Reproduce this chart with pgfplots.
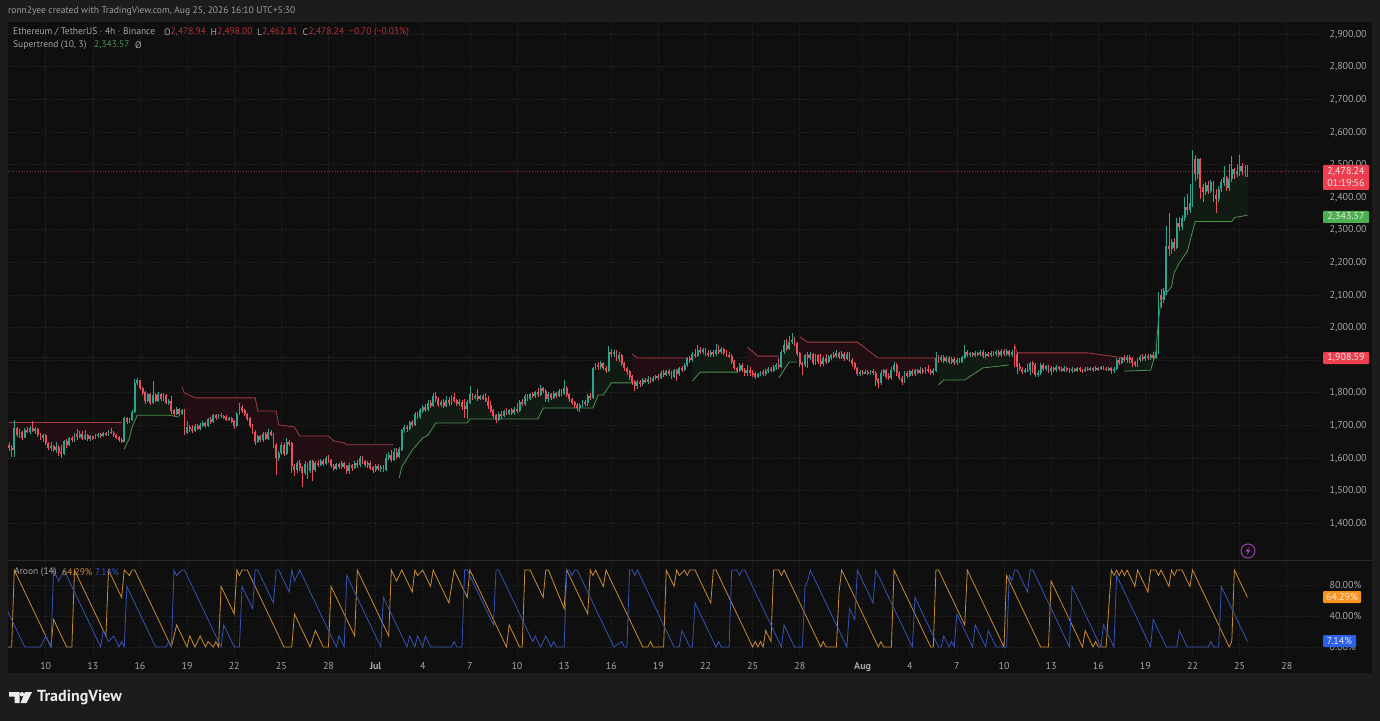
\documentclass[border=0pt]{standalone}
\usepackage{pgfplots}
\usepackage{pgfplotstable}
\usepackage{fontspec}
\pgfplotsset{compat=1.18}
\setmainfont{PT Sans}
\definecolor{outer}{HTML}{1C1C1C}
\definecolor{panel}{HTML}{0F0F0F}
\definecolor{gridc}{HTML}{272727}
\definecolor{txt}{HTML}{A6A6A6}
\definecolor{upc}{HTML}{2BA58F}
\definecolor{dnc}{HTML}{E8515D}
\definecolor{stred}{HTML}{A33B44}
\definecolor{stgreen}{HTML}{4F9150}
\definecolor{bandr}{HTML}{210F13}
\definecolor{bandg}{HTML}{111B14}
\definecolor{aorange}{HTML}{C98A35}
\definecolor{ablue}{HTML}{3553B5}
\definecolor{legred}{HTML}{B5323C}
\definecolor{leggreen}{HTML}{3F9A50}
\definecolor{boxred}{HTML}{EE3F50}
\definecolor{boxgreen}{HTML}{4CAF50}
\definecolor{boxorange}{HTML}{F7931E}
\definecolor{boxblue}{HTML}{2962E8}
\definecolor{purp}{HTML}{9A3FB0}
\pgfplotstableread{
n o c l h
-14 1640 1630 1622 1650
-13 1630 1625 1603 1640
-12 1625 1690 1603 1716
-11 1690 1672 1665 1695
-10 1672 1678 1660 1690
-9 1678 1662 1655 1682
-8 1662 1685 1660 1692
-7 1685 1680 1675 1695
-6 1680 1690 1672 1698
-5 1690 1682 1678 1712
-4 1682 1688 1672 1695
-3 1688 1670 1665 1692
-2 1670 1662 1655 1675
-1 1662 1668 1650 1672
0 1668 1645 1640 1672
1 1645 1630 1625 1650
2 1630 1635 1622 1650
3 1635 1625 1618 1640
4 1625 1632 1615 1650
5 1632 1618 1605 1640
6 1618 1612 1600 1640
7 1612 1650 1610 1655
8 1650 1640 1630 1658
9 1640 1660 1635 1665
10 1660 1655 1648 1668
11 1655 1672 1650 1675
12 1672 1665 1655 1688
13 1665 1672 1660 1682
14 1672 1660 1655 1682
15 1660 1668 1655 1685
16 1668 1658 1652 1672
17 1658 1665 1652 1670
18 1665 1660 1655 1668
19 1660 1668 1658 1672
20 1668 1672 1662 1676
21 1672 1668 1662 1676
22 1668 1676 1665 1680
23 1676 1672 1668 1680
24 1672 1680 1668 1686
25 1680 1676 1672 1692
26 1676 1670 1665 1682
27 1670 1662 1658 1674
28 1662 1655 1650 1666
29 1655 1650 1645 1660
30 1650 1720 1648 1726
31 1720 1712 1705 1725
32 1712 1718 1706 1722
33 1718 1740 1712 1746
34 1740 1830 1738 1842
35 1830 1838 1822 1846
36 1838 1815 1808 1840
37 1815 1800 1792 1818
38 1800 1775 1765 1805
39 1775 1795 1770 1800
40 1795 1770 1762 1800
41 1770 1792 1765 1835
42 1792 1775 1770 1800
43 1775 1795 1770 1802
44 1795 1780 1775 1800
45 1780 1792 1775 1798
46 1792 1770 1765 1796
47 1770 1775 1762 1782
48 1775 1745 1735 1790
49 1745 1735 1728 1750
50 1735 1750 1730 1755
51 1750 1735 1728 1754
52 1735 1745 1730 1750
53 1745 1678 1670 1750
54 1678 1695 1672 1712
55 1695 1688 1680 1702
56 1688 1682 1676 1700
57 1682 1698 1678 1704
58 1698 1690 1685 1704
59 1690 1700 1686 1706
60 1700 1705 1695 1712
61 1705 1698 1692 1710
62 1698 1718 1695 1722
63 1718 1710 1704 1724
64 1710 1730 1706 1735
65 1730 1722 1716 1736
66 1722 1732 1718 1736
67 1732 1728 1722 1738
68 1728 1725 1718 1732
69 1725 1718 1712 1730
70 1718 1722 1712 1726
71 1722 1712 1706 1726
72 1712 1700 1690 1716
73 1700 1735 1696 1740
74 1735 1755 1730 1768
75 1755 1745 1738 1762
76 1745 1735 1728 1750
77 1735 1720 1712 1738
78 1720 1700 1692 1724
79 1700 1680 1672 1704
80 1680 1650 1640 1684
81 1650 1665 1645 1670
82 1665 1655 1648 1670
83 1655 1672 1650 1678
84 1672 1660 1654 1678
85 1660 1680 1656 1688
86 1680 1672 1666 1684
87 1672 1640 1630 1676
88 1640 1600 1548 1645
89 1600 1615 1590 1622
90 1615 1640 1610 1650
91 1640 1612 1606 1646
92 1612 1648 1608 1660
93 1648 1645 1636 1655
94 1645 1575 1555 1650
95 1575 1565 1545 1582
96 1565 1585 1555 1590
97 1585 1570 1560 1592
98 1570 1555 1510 1575
99 1555 1580 1548 1590
100 1580 1560 1535 1585
101 1560 1590 1555 1595
102 1590 1565 1530 1595
103 1565 1585 1558 1590
104 1585 1580 1572 1592
105 1580 1590 1574 1596
106 1590 1582 1576 1598
107 1582 1600 1578 1606
108 1600 1592 1585 1610
109 1592 1575 1568 1596
110 1575 1568 1560 1580
111 1568 1580 1562 1585
112 1580 1572 1565 1585
113 1572 1582 1566 1590
114 1582 1574 1566 1586
115 1574 1560 1550 1578
116 1560 1578 1552 1584
117 1578 1570 1560 1582
118 1570 1585 1565 1590
119 1585 1578 1570 1595
120 1578 1600 1572 1606
121 1600 1590 1582 1606
122 1590 1580 1572 1594
123 1580 1585 1570 1590
124 1585 1570 1562 1590
125 1570 1565 1555 1575
126 1565 1575 1558 1580
127 1575 1568 1560 1580
128 1568 1572 1558 1578
129 1572 1565 1558 1578
130 1565 1600 1560 1612
131 1600 1608 1592 1618
132 1608 1595 1588 1625
133 1595 1618 1590 1630
134 1618 1605 1598 1630
135 1605 1625 1600 1632
136 1625 1685 1620 1690
137 1685 1695 1675 1700
138 1695 1688 1680 1702
139 1688 1710 1685 1714
140 1710 1702 1695 1716
141 1702 1735 1698 1740
142 1735 1725 1720 1742
143 1725 1745 1720 1752
144 1745 1755 1738 1762
145 1755 1748 1742 1764
146 1748 1768 1744 1778
147 1768 1760 1752 1776
148 1760 1790 1755 1800
149 1790 1780 1772 1802
150 1780 1762 1755 1786
151 1762 1772 1756 1778
152 1772 1760 1752 1782
153 1760 1778 1755 1790
154 1778 1768 1760 1786
155 1768 1786 1762 1792
156 1786 1776 1768 1798
157 1776 1765 1758 1782
158 1765 1772 1758 1780
159 1772 1758 1748 1776
160 1758 1750 1722 1780
161 1750 1770 1720 1778
162 1770 1795 1764 1820
163 1795 1785 1778 1800
164 1785 1790 1780 1796
165 1790 1780 1774 1810
166 1780 1790 1776 1794
167 1790 1782 1776 1796
168 1782 1775 1770 1800
169 1775 1760 1750 1790
170 1760 1745 1738 1775
171 1745 1730 1722 1750
172 1730 1718 1708 1735
173 1718 1735 1712 1740
174 1735 1728 1720 1745
175 1728 1742 1724 1748
176 1742 1735 1730 1752
177 1735 1745 1730 1750
178 1745 1738 1732 1752
179 1738 1750 1732 1755
180 1750 1745 1738 1768
181 1745 1770 1740 1776
182 1770 1765 1758 1780
183 1765 1790 1760 1796
184 1790 1780 1774 1796
185 1780 1795 1776 1800
186 1795 1790 1784 1802
187 1790 1800 1784 1806
188 1800 1795 1788 1815
189 1795 1812 1790 1822
190 1812 1805 1798 1818
191 1805 1780 1772 1810
192 1780 1795 1772 1802
193 1795 1785 1778 1800
194 1785 1798 1780 1804
195 1798 1790 1784 1802
196 1790 1805 1786 1810
197 1805 1798 1790 1810
198 1798 1815 1792 1840
199 1815 1795 1788 1820
200 1795 1780 1772 1800
201 1780 1770 1762 1785
202 1770 1762 1754 1775
203 1762 1755 1745 1768
204 1755 1762 1740 1768
205 1762 1770 1756 1776
206 1770 1768 1758 1778
207 1768 1790 1760 1796
208 1790 1785 1778 1800
209 1785 1875 1780 1880
210 1875 1885 1868 1892
211 1885 1878 1870 1895
212 1878 1890 1872 1898
213 1890 1875 1868 1895
214 1875 1868 1860 1882
215 1868 1925 1862 1942
216 1925 1918 1908 1935
217 1918 1925 1910 1932
218 1925 1905 1898 1930
219 1905 1915 1895 1925
220 1915 1890 1882 1920
221 1890 1875 1866 1895
222 1875 1865 1855 1880
223 1865 1850 1840 1870
224 1850 1835 1825 1855
225 1835 1820 1805 1840
226 1820 1832 1812 1838
227 1832 1826 1818 1840
228 1826 1838 1820 1845
229 1838 1835 1830 1845
230 1835 1842 1828 1850
231 1842 1838 1830 1848
232 1838 1845 1832 1852
233 1845 1850 1838 1855
234 1850 1846 1838 1856
235 1846 1860 1842 1866
236 1860 1855 1848 1868
237 1855 1865 1850 1870
238 1865 1858 1850 1872
239 1858 1850 1842 1866
240 1850 1868 1845 1874
241 1868 1858 1835 1872
242 1858 1875 1852 1880
243 1875 1870 1862 1882
244 1870 1885 1865 1890
245 1885 1905 1880 1910
246 1905 1900 1892 1912
247 1900 1918 1895 1924
248 1918 1912 1905 1935
249 1912 1930 1908 1945
250 1930 1925 1918 1940
251 1925 1932 1918 1938
252 1932 1920 1912 1936
253 1920 1915 1908 1930
254 1915 1925 1910 1932
255 1925 1918 1908 1930
256 1918 1930 1912 1950
257 1930 1925 1918 1945
258 1925 1932 1918 1940
259 1932 1922 1915 1936
260 1922 1915 1908 1930
261 1915 1912 1905 1925
262 1912 1895 1888 1918
263 1895 1875 1868 1900
264 1875 1868 1860 1880
265 1868 1885 1862 1890
266 1885 1870 1862 1890
267 1870 1860 1850 1875
268 1860 1868 1852 1885
269 1868 1860 1852 1878
270 1860 1855 1848 1868
271 1855 1850 1842 1862
272 1850 1855 1845 1860
273 1855 1862 1850 1866
274 1862 1858 1852 1868
275 1858 1866 1852 1872
276 1866 1872 1860 1878
277 1872 1868 1862 1880
278 1868 1878 1862 1884
279 1878 1885 1870 1890
280 1885 1880 1872 1905
281 1880 1925 1876 1930
282 1925 1945 1918 1960
283 1945 1935 1928 1965
284 1935 1955 1930 1975
285 1955 1962 1948 1982
286 1962 1950 1942 1970
287 1950 1920 1912 1955
288 1920 1890 1880 1925
289 1890 1885 1855 1895
290 1885 1915 1880 1920
291 1915 1908 1875 1925
292 1908 1918 1900 1925
293 1918 1892 1885 1922
294 1892 1915 1886 1920
295 1915 1895 1888 1920
296 1895 1890 1880 1920
297 1890 1905 1882 1912
298 1905 1895 1888 1920
299 1895 1908 1890 1915
300 1908 1915 1900 1920
301 1915 1912 1905 1925
302 1912 1920 1905 1930
303 1920 1910 1904 1925
304 1910 1918 1902 1928
305 1918 1905 1898 1925
306 1905 1918 1900 1924
307 1918 1900 1893 1925
308 1900 1890 1880 1906
309 1890 1875 1868 1895
310 1875 1858 1850 1880
311 1858 1864 1852 1870
312 1864 1860 1855 1870
313 1860 1863 1856 1868
314 1863 1860 1855 1868
315 1860 1866 1855 1870
316 1866 1860 1855 1872
317 1860 1840 1820 1866
318 1840 1830 1815 1846
319 1830 1860 1825 1868
320 1860 1870 1852 1874
321 1870 1850 1842 1874
322 1850 1845 1838 1860
323 1845 1870 1840 1878
324 1870 1885 1862 1895
325 1885 1860 1850 1892
326 1860 1845 1838 1865
327 1845 1835 1825 1850
328 1835 1860 1830 1866
329 1860 1852 1846 1866
330 1852 1866 1848 1870
331 1866 1858 1852 1872
332 1858 1868 1852 1874
333 1868 1862 1856 1874
334 1862 1870 1856 1878
335 1870 1864 1858 1876
336 1864 1872 1858 1880
337 1872 1866 1860 1884
338 1866 1860 1855 1872
339 1860 1868 1855 1875
340 1868 1905 1862 1925
341 1905 1900 1892 1915
342 1900 1910 1894 1916
343 1910 1898 1892 1916
344 1898 1906 1890 1912
345 1906 1895 1888 1912
346 1895 1902 1888 1908
347 1902 1892 1886 1908
348 1892 1900 1886 1906
349 1900 1895 1890 1906
350 1895 1908 1890 1912
351 1908 1925 1902 1945
352 1925 1915 1908 1930
353 1915 1920 1910 1926
354 1920 1915 1908 1925
355 1915 1922 1910 1928
356 1922 1918 1912 1926
357 1918 1925 1912 1930
358 1925 1912 1906 1930
359 1912 1918 1906 1924
360 1918 1915 1908 1924
361 1915 1922 1910 1928
362 1922 1918 1912 1928
363 1918 1924 1912 1930
364 1924 1915 1908 1930
365 1915 1928 1910 1934
366 1928 1918 1912 1934
367 1918 1928 1912 1934
368 1928 1915 1908 1932
369 1915 1925 1908 1930
370 1925 1918 1880 1942
371 1918 1880 1858 1925
372 1880 1872 1865 1890
373 1872 1865 1858 1880
374 1865 1868 1860 1875
375 1868 1870 1862 1888
376 1870 1890 1855 1895
377 1890 1885 1860 1898
378 1885 1855 1848 1890
379 1855 1860 1848 1870
380 1860 1885 1855 1890
381 1885 1872 1865 1890
382 1872 1880 1866 1885
383 1880 1868 1860 1884
384 1868 1876 1855 1882
385 1876 1870 1864 1880
386 1870 1878 1864 1884
387 1878 1872 1866 1882
388 1872 1868 1862 1880
389 1868 1875 1862 1882
390 1875 1870 1864 1880
391 1870 1866 1860 1876
392 1866 1872 1860 1878
393 1872 1868 1862 1876
394 1868 1874 1864 1880
395 1874 1870 1864 1878
396 1870 1866 1860 1874
397 1866 1873 1862 1878
398 1873 1870 1865 1878
399 1870 1875 1865 1880
400 1875 1870 1864 1880
401 1870 1876 1866 1882
402 1876 1872 1866 1880
403 1872 1877 1868 1882
404 1877 1873 1868 1882
405 1873 1870 1865 1878
406 1870 1875 1865 1880
407 1875 1866 1858 1880
408 1866 1873 1860 1878
409 1873 1900 1868 1905
410 1900 1893 1886 1906
411 1893 1905 1888 1910
412 1905 1900 1894 1914
413 1900 1908 1892 1916
414 1908 1902 1890 1914
415 1902 1892 1880 1908
416 1892 1885 1878 1898
417 1885 1900 1880 1906
418 1900 1910 1894 1916
419 1910 1904 1898 1918
420 1904 1912 1898 1918
421 1912 1906 1900 1920
422 1906 1915 1900 1920
423 1915 1908 1900 1925
424 1908 1925 1902 1932
425 1925 2100 1920 2110
426 2100 2085 2060 2118
427 2085 2110 2075 2120
428 2110 2250 2100 2310
429 2250 2240 2220 2350
430 2240 2260 2225 2270
431 2260 2245 2235 2275
432 2245 2320 2240 2335
433 2320 2310 2295 2340
434 2310 2335 2300 2345
435 2335 2370 2325 2400
436 2370 2360 2345 2410
437 2360 2380 2350 2440
438 2380 2515 2370 2544
439 2515 2470 2450 2530
440 2470 2515 2455 2520
441 2515 2430 2395 2520
442 2430 2415 2385 2440
443 2415 2435 2405 2445
444 2435 2420 2410 2450
445 2420 2445 2412 2452
446 2445 2405 2385 2450
447 2405 2395 2350 2425
448 2395 2425 2385 2435
449 2425 2445 2415 2455
450 2445 2460 2435 2495
451 2460 2430 2420 2465
452 2430 2455 2420 2500
453 2455 2485 2445 2525
454 2485 2470 2455 2490
455 2470 2480 2460 2500
456 2480 2495 2465 2530
457 2495 2478 2468 2505
458 2478 2479 2462 2498
459 2478.94 2478.24 2462.81 2498
}\candles
\pgfplotsset{
  tvaxis/.style={
    scale only axis, width=1312pt, xmin=-14.4, xmax=486.7,
    axis line style={draw=none}, tick style={draw=none},
    xtick={0,18,36,54,72,90,108,126,144,162,180,198,216,234,252,270,288,312,330,348,366,384,402,420,438,456,474},
    xmajorgrids, ymajorgrids,
    grid style={gridc, dotted, line width=0.6pt},
    tick label style={text=txt, font=\fontsize{10}{11}\selectfont},
    clip=true,
  },
  candlewick/.style={only marks, mark size=0pt, mark options={draw=none, fill=none}, forget plot, error bars/.cd, y dir=both, y explicit, error mark=none, error bar style={color=#1, line width=0.7pt}, /pgfplots/.cd},
  candlebody/.style={only marks, mark size=0pt, mark options={draw=none, fill=none}, forget plot, error bars/.cd, y dir=both, y explicit, error mark=none, error bar style={color=#1, line width=1.9pt}, /pgfplots/.cd},
}
\begin{document}
\begin{tikzpicture}[x=1pt,y=1pt]
\path[use as bounding box, fill=outer] (0,0) rectangle (1380,721);
\fill[panel] (8,48) rectangle (1372,699);
\begin{axis}[tvaxis, at={(8pt,163pt)}, anchor=south west, height=536pt,
  ymin=1292.9, ymax=2936.8,
  ytick={1400,1500,1600,1700,1800,1900,2000,2100,2200,2300,2400,2500,2600,2700,2800,2900},
  xticklabels={},
  yticklabel pos=right,
  yticklabel style={xshift=6pt, yshift=-0.5pt, /pgf/number format/.cd, fixed, fixed zerofill, precision=2, 1000 sep={,}, assume math mode=true},
]
% price lines
\addplot[dnc!60!panel, dotted, line width=0.7pt] coordinates {(-14.4,2478.24)(486.7,2478.24)};
\addplot[dnc!25!panel, dotted, line width=0.6pt] coordinates {(-14.4,1908.59)(486.7,1908.59)};
% supertrend bands
\addplot[fill=bandr, draw=none] coordinates {(-14,1710)(29,1710)(29,1655)(25,1680)(20,1668)(15,1665)(12,1670)(8,1650)(6,1615)(4,1625)(1,1630)(-1,1662)(-3,1670)(-5,1690)(-8,1685)(-10,1675)(-12,1685)(-14,1640)} --cycle;
\addplot[fill=bandg, draw=none] coordinates {(30,1627)(32,1661)(33,1695)(35,1731)(47,1731)(51,1725)(51,1740)(48,1750)(46,1775)(42,1785)(39,1785)(37,1805)(35,1835)(34,1780)(32,1715)(30,1685)} --cycle;
\addplot[fill=bandr, draw=none] coordinates {(52,1817)(53,1799)(57,1784)(80,1784)(81,1744)(88,1744)(89,1701)(95,1695)(97,1667)(108,1667)(110,1652)(114,1646)(115,1640)(133,1640)(133,1607)(130,1580)(126,1570)(120,1590)(112,1575)(108,1596)(104,1582)(100,1570)(97,1578)(94,1610)(92,1630)(89,1610)(88,1620)(85,1670)(81,1658)(80,1665)(78,1710)(75,1750)(72,1706)(67,1730)(63,1714)(59,1695)(55,1690)(53,1712)} --cycle;
\addplot[fill=bandg, draw=none] coordinates {(135,1538)(136,1572)(140,1624)(144,1661)(146,1670)(149,1707)(161,1707)(162,1719)(188,1719)(190,1753)(209,1753)(211,1793)(213,1793)(216,1830)(224,1830)(224,1842)(222,1870)(218,1915)(215,1895)(212,1884)(209,1830)(204,1758)(200,1787)(196,1798)(192,1787)(190,1808)(184,1785)(180,1747)(176,1738)(172,1724)(168,1778)(166,1785)(162,1782)(160,1754)(156,1780)(152,1766)(148,1775)(144,1750)(141,1718)(139,1698)(136,1655)} --cycle;
\addplot[fill=bandr, draw=none] coordinates {(224,1919)(226,1906)(245,1906)(245,1895)(241,1863)(237,1860)(232,1842)(227,1829)(224,1842)} --cycle;
\addplot[fill=bandg, draw=none] coordinates {(247,1836)(250,1863)(264,1863)(264,1872)(262,1903)(258,1928)(254,1920)(250,1928)(247,1909)} --cycle;
\addplot[fill=bandr, draw=none] coordinates {(268,1940)(272,1912)(280,1912)(280,1882)(275,1862)(272,1852)(268,1864)} --cycle;
\addplot[fill=bandg, draw=none] coordinates {(280,1845)(284,1894)(287,1894)(287,1935)(285,1958)(282,1935)} --cycle;
\addplot[fill=bandr, draw=none] coordinates {(288,1971)(291,1955)(310,1955)(318,1906)(340,1906)(340,1880)(330,1860)(328,1848)(326,1870)(324,1878)(321,1860)(319,1845)(316,1862)(312,1862)(310,1866)(307,1910)(303,1914)(300,1911)(296,1893)(292,1912)(288,1905)} --cycle;
\addplot[fill=bandg, draw=none] coordinates {(341,1824)(343,1839)(351,1839)(358,1876)(368,1885)(368,1922)(361,1918)(353,1918)(351,1916)(346,1898)(341,1902)} --cycle;
\addplot[fill=bandr, draw=none] coordinates {(370,1949)(371,1922)(398,1922)(415,1903)(415,1897)(408,1868)(396,1868)(384,1872)(376,1880)(371,1899)} --cycle;
\addplot[fill=bandg, draw=none] coordinates {(412,1866)(422,1869)(424,1922)(425,2023)(426,2085)(430,2125)(431,2168)(433,2199)(436,2233)(439,2325)(453,2325)(454,2337)(459,2344)(459,2478)(455,2475)(452,2440)(450,2452)(447,2400)(444,2428)(441,2470)(439,2490)(437,2370)(434,2322)(431,2252)(428,2180)(426,2092)(425,2010)(422,1910)(416,1890)(412,1902)} --cycle;
% supertrend lines
\addplot[stred, line width=0.8pt] coordinates {(-14,1710)(29,1710)};
\addplot[stgreen, line width=0.8pt] coordinates {(30,1627)(32,1661)(33,1695)(35,1731)(47,1731)(51,1725)};
\addplot[stred, line width=0.8pt] coordinates {(52,1817)(53,1799)(57,1784)(80,1784)(81,1744)(88,1744)(89,1701)(95,1695)(97,1667)(108,1667)(110,1652)(114,1646)(115,1640)(133,1640)};
\addplot[stgreen, line width=0.8pt] coordinates {(135,1538)(136,1572)(140,1624)(144,1661)(146,1670)(149,1707)(161,1707)(162,1719)(188,1719)(190,1753)(209,1753)(211,1793)(213,1793)(216,1830)(224,1830)};
\addplot[stred, line width=0.8pt] coordinates {(224,1919)(226,1906)(245,1906)};
\addplot[stgreen, line width=0.8pt] coordinates {(247,1836)(250,1863)(264,1863)};
\addplot[stred, line width=0.8pt] coordinates {(268,1940)(272,1912)(280,1912)};
\addplot[stgreen, line width=0.8pt] coordinates {(280,1845)(284,1894)(287,1894)};
\addplot[stred, line width=0.8pt] coordinates {(288,1971)(291,1955)(310,1955)(318,1906)(340,1906)};
\addplot[stgreen, line width=0.8pt] coordinates {(341,1824)(343,1839)(351,1839)(358,1876)(368,1885)};
\addplot[stred, line width=0.8pt] coordinates {(370,1949)(371,1922)(398,1922)(415,1903)};
\addplot[stgreen, line width=0.8pt] coordinates {(412,1866)(422,1869)(424,1922)(425,2023)(426,2085)(430,2125)(431,2168)(433,2199)(436,2233)(439,2325)(453,2325)(454,2337)(459,2344)};
% candles
\addplot[candlewick=upc, y filter/.expression={\thisrow{c}>=\thisrow{o} ? y : nan}] table[x=n, y expr=(\thisrow{l}+\thisrow{h})/2, y error expr=(\thisrow{h}-\thisrow{l})/2] {\candles};
\addplot[candlewick=dnc, y filter/.expression={\thisrow{c}<\thisrow{o} ? y : nan}] table[x=n, y expr=(\thisrow{l}+\thisrow{h})/2, y error expr=(\thisrow{h}-\thisrow{l})/2] {\candles};
\addplot[candlebody=upc, y filter/.expression={\thisrow{c}>=\thisrow{o} ? y : nan}] table[x=n, y expr=(\thisrow{o}+\thisrow{c})/2, y error expr=(\thisrow{c}-\thisrow{o})/2+0.8] {\candles};
\addplot[candlebody=dnc, y filter/.expression={\thisrow{c}<\thisrow{o} ? y : nan}] table[x=n, y expr=(\thisrow{o}+\thisrow{c})/2, y error expr=(\thisrow{o}-\thisrow{c})/2+0.8] {\candles};
\end{axis}
\begin{axis}[tvaxis, at={(8pt,66pt)}, anchor=south west, height=94pt,
  ymin=-10.4, ymax=111.7,
  ytick={0,40,80}, yticklabels={0.00\%,40.00\%,80.00\%},
  yticklabel pos=right, yticklabel style={xshift=6pt},
  xticklabels={10,13,16,19,22,25,28,\textbf{Jul},4,7,10,13,16,19,22,25,28,\textbf{Aug},4,7,10,13,16,19,22,25,28},
  xticklabel style={yshift=-3.5pt},
]
\addplot[aorange, line width=0.8pt] coordinates {(-15,0)(-13,0)(-12,100)(2,0)(3,35.7)(8,0)(10,0)(11,100)(23,14.3)(24,100)(29,64.3)(30,100)(32,92.9)(33,100)(34,100)(48,0)(50,28.6)(54,0)(55,14.3)(57,0)(59,14.3)(61,0)(62,7.1)(64,0)(65,7.1)(66,0)(67,78.6)(72,42.9)(73,100)(74,92.9)(75,100)(77,100)(91,0)(94,0)(95,42.9)(101,0)(103,21.4)(106,0)(108,0)(109,78.6)(118,14.3)(119,100)(131,14.3)(132,100)(134,85.7)(136,100)(140,71.4)(141,100)(142,92.9)(144,100)(147,78.6)(148,100)(154,57.1)(156,100)(158,85.7)(161,64.3)(162,100)(176,0)(177,28.6)(181,0)(182,0)(183,100)(185,100)(190,64.3)(191,100)(192,100)(198,50)(199,100)(207,42.9)(208,100)(209,92.9)(210,100)(213,78.6)(214,100)(228,0)(230,0)(231,7.1)(232,0)(236,0)(237,100)(240,78.6)(241,100)(242,92.9)(244,100)(245,92.9)(246,100)(248,100)(254,57.1)(255,100)(256,100)(270,0)(271,7.1)(272,0)(273,7.1)(274,0)(275,21.4)(277,7.1)(278,100)(280,100)(281,92.9)(282,100)(296,0)(297,7.1)(298,0)(302,0)(303,71.4)(304,100)(318,0)(319,7.1)(320,0)(323,0)(324,100)(334,28.6)(338,0)(339,0)(340,100)(341,100)(351,28.6)(352,100)(366,0)(367,92.9)(380,0)(383,0)(384,85.7)(396,0)(397,21.4)(400,0)(401,7.1)(402,0)(405,0)(407,100)(408,92.9)(409,100)(410,92.9)(411,100)(412,92.9)(413,100)(416,78.6)(417,100)(421,71.4)(422,100)(424,100)(425,92.9)(426,100)(429,78.6)(430,100)(431,92.9)(432,100)(434,100)(437,78.6)(438,100)(452,0)(453,7.1)(454,100)(459,64.3)};
\addplot[ablue, line width=0.8pt] coordinates {(-15,50)(-8,0)(-2,0)(0,14.3)(2,0)(3,100)(5,85.7)(7,100)(21,0)(22,21.4)(24,7.1)(26,14.3)(28,0)(29,7.1)(30,0)(31,78.6)(42,0)(46,0)(47,7.1)(48,0)(49,100)(50,92.9)(52,100)(53,100)(67,0)(68,28.6)(72,0)(74,0)(75,78.6)(79,50)(80,100)(81,100)(87,57.1)(88,100)(89,100)(93,71.4)(94,100)(95,85.7)(97,100)(98,92.9)(108,21.4)(111,0)(112,14.3)(114,0)(115,92.9)(128,0)(129,64.3)(138,0)(139,14.3)(141,0)(142,14.3)(144,0)(145,14.3)(147,0)(155,0)(156,7.1)(157,0)(159,0)(160,100)(161,100)(171,28.6)(172,100)(173,100)(186,7.1)(187,14.3)(189,0)(191,14.3)(193,0)(194,7.1)(195,0)(198,0)(199,100)(200,100)(201,92.9)(202,100)(203,100)(217,0)(220,7.1)(221,0)(222,0)(223,100)(224,100)(225,92.9)(226,100)(240,0)(242,0)(243,21.4)(246,0)(247,0)(248,57.1)(256,0)(257,7.1)(258,0)(261,0)(262,100)(264,100)(265,92.9)(266,100)(267,100)(281,0)(282,28.6)(286,0)(289,0)(290,78.6)(291,85.7)(292,100)(306,0)(307,50)(309,35.7)(310,100)(316,57.1)(317,100)(331,0)(332,64.3)(341,0)(342,0)(343,14.3)(345,0)(346,7.1)(347,0)(348,42.9)(354,0)(355,28.6)(359,0)(360,21.4)(363,0)(367,0)(368,92.9)(369,85.7)(370,100)(371,100)(375,71.4)(376,100)(377,100)(391,0)(392,78.6)(403,0)(404,28.6)(408,0)(409,92.9)(422,0)(423,35.7)(428,0)(432,0)(433,21.4)(436,0)(444,0)(445,7.1)(446,0)(448,0)(449,78.6)(459,7.1)};
\end{axis}
\draw[gridc, line width=0.8pt] (8,161) -- (1372,161);
% right strip
\fill[outer] (1372,48) rectangle (1380,721);
% header
\def\sz{\fontsize{9.5}{11}\selectfont}
\node[anchor=west, inner sep=0, text=txt!110!white, font=\sz] at (8,710) {ronn2yee created with TradingView.com, Aug 25, 2026 16:10 UTC+5:30};
\node[anchor=west, inner sep=0, text=txt, font=\sz] at (13,689) {Ethereum / TetherUS · 4h · Binance};
\node[anchor=west, inner sep=0, text=txt, font=\sz] at (164,689) {O};
\node[anchor=west, inner sep=0, text=legred, font=\sz] at (170.5,689) {2,478.94};
\node[anchor=west, inner sep=0, text=txt, font=\sz] at (210.5,689) {H};
\node[anchor=west, inner sep=0, text=legred, font=\sz] at (217,689) {2,498.00};
\node[anchor=west, inner sep=0, text=txt, font=\sz] at (257,689) {L};
\node[anchor=west, inner sep=0, text=legred, font=\sz] at (262,689) {2,462.81};
\node[anchor=west, inner sep=0, text=txt, font=\sz] at (302.5,689) {C};
\node[anchor=west, inner sep=0, text=legred, font=\sz] at (308.5,689) {2,478.24};
\node[anchor=west, inner sep=0, text=legred, font=\sz] at (349,689) {−0.70 (−0.03\%)};
\node[anchor=west, inner sep=0, text=txt, font=\sz] at (13,676) {Supertrend (10, 3)};
\node[anchor=west, inner sep=0, text=leggreen, font=\sz] at (94,676) {2,343.57};
\node[anchor=west, inner sep=0, text=txt, font=\sz] at (135,676) {Ø};
% aroon legend
\node[anchor=west, inner sep=0, text=txt, font=\sz] at (14,149) {Aroon (14)};
\node[anchor=west, inner sep=0, text=aorange, font=\sz] at (62,149) {64.29\%};
\node[anchor=west, inner sep=0, text=ablue, font=\sz] at (95,149) {7.14\%};
% price boxes
\fill[boxred, rounded corners=1pt] (1323,531) rectangle (1369,556);
\node[inner sep=0, text=white!90!black, font=\fontsize{10}{10}\selectfont] at (1346,549) {2,478.24};
\node[inner sep=0, text=white!90!black, font=\fontsize{10}{10}\selectfont] at (1346,537.5) {01:19:56};
\fill[boxgreen, rounded corners=1pt] (1323,498) rectangle (1369,510);
\node[inner sep=0, text=white!90!black, font=\fontsize{10}{10}\selectfont] at (1346,504) {2,343.57};
\fill[boxred, rounded corners=1pt] (1323,357) rectangle (1369,369);
\node[inner sep=0, text=white!90!black, font=\fontsize{10}{10}\selectfont] at (1346,363) {1,908.59};
\fill[boxorange, rounded corners=1pt] (1323,118) rectangle (1361,130);
\node[inner sep=0, text=white!85!orange, font=\fontsize{10}{10}\selectfont] at (1342,124) {64.29\%};
\fill[boxblue, rounded corners=1pt] (1323,74) rectangle (1356,86);
\node[inner sep=0, text=white!90!black, font=\fontsize{10}{10}\selectfont] at (1339.5,80) {7.14\%};
% lightning
\draw[purp, line width=1pt] (1248,170) circle (7);
\fill[purp] (1249.5,174.5) -- (1245.5,169.5) -- (1248,169.5) -- (1246.5,165.5) -- (1250.5,171) -- (1248,171) -- cycle;
% logo
\fill[white!92!black] (9,29) -- (19.5,29) -- (19.5,18) -- (14.5,18) -- (14.5,24.5) -- (9,24.5) -- cycle;
\fill[white!92!black] (22,26.8) circle (2.2);
\fill[white!92!black] (25,29) -- (32,29) -- (26.5,18) -- (20.5,18) -- cycle;
\node[anchor=west, inner sep=0, text=white!92!black, font=\fontsize{16}{17}\selectfont\bfseries] at (37,23) {TradingView};
\end{tikzpicture}
\end{document}
